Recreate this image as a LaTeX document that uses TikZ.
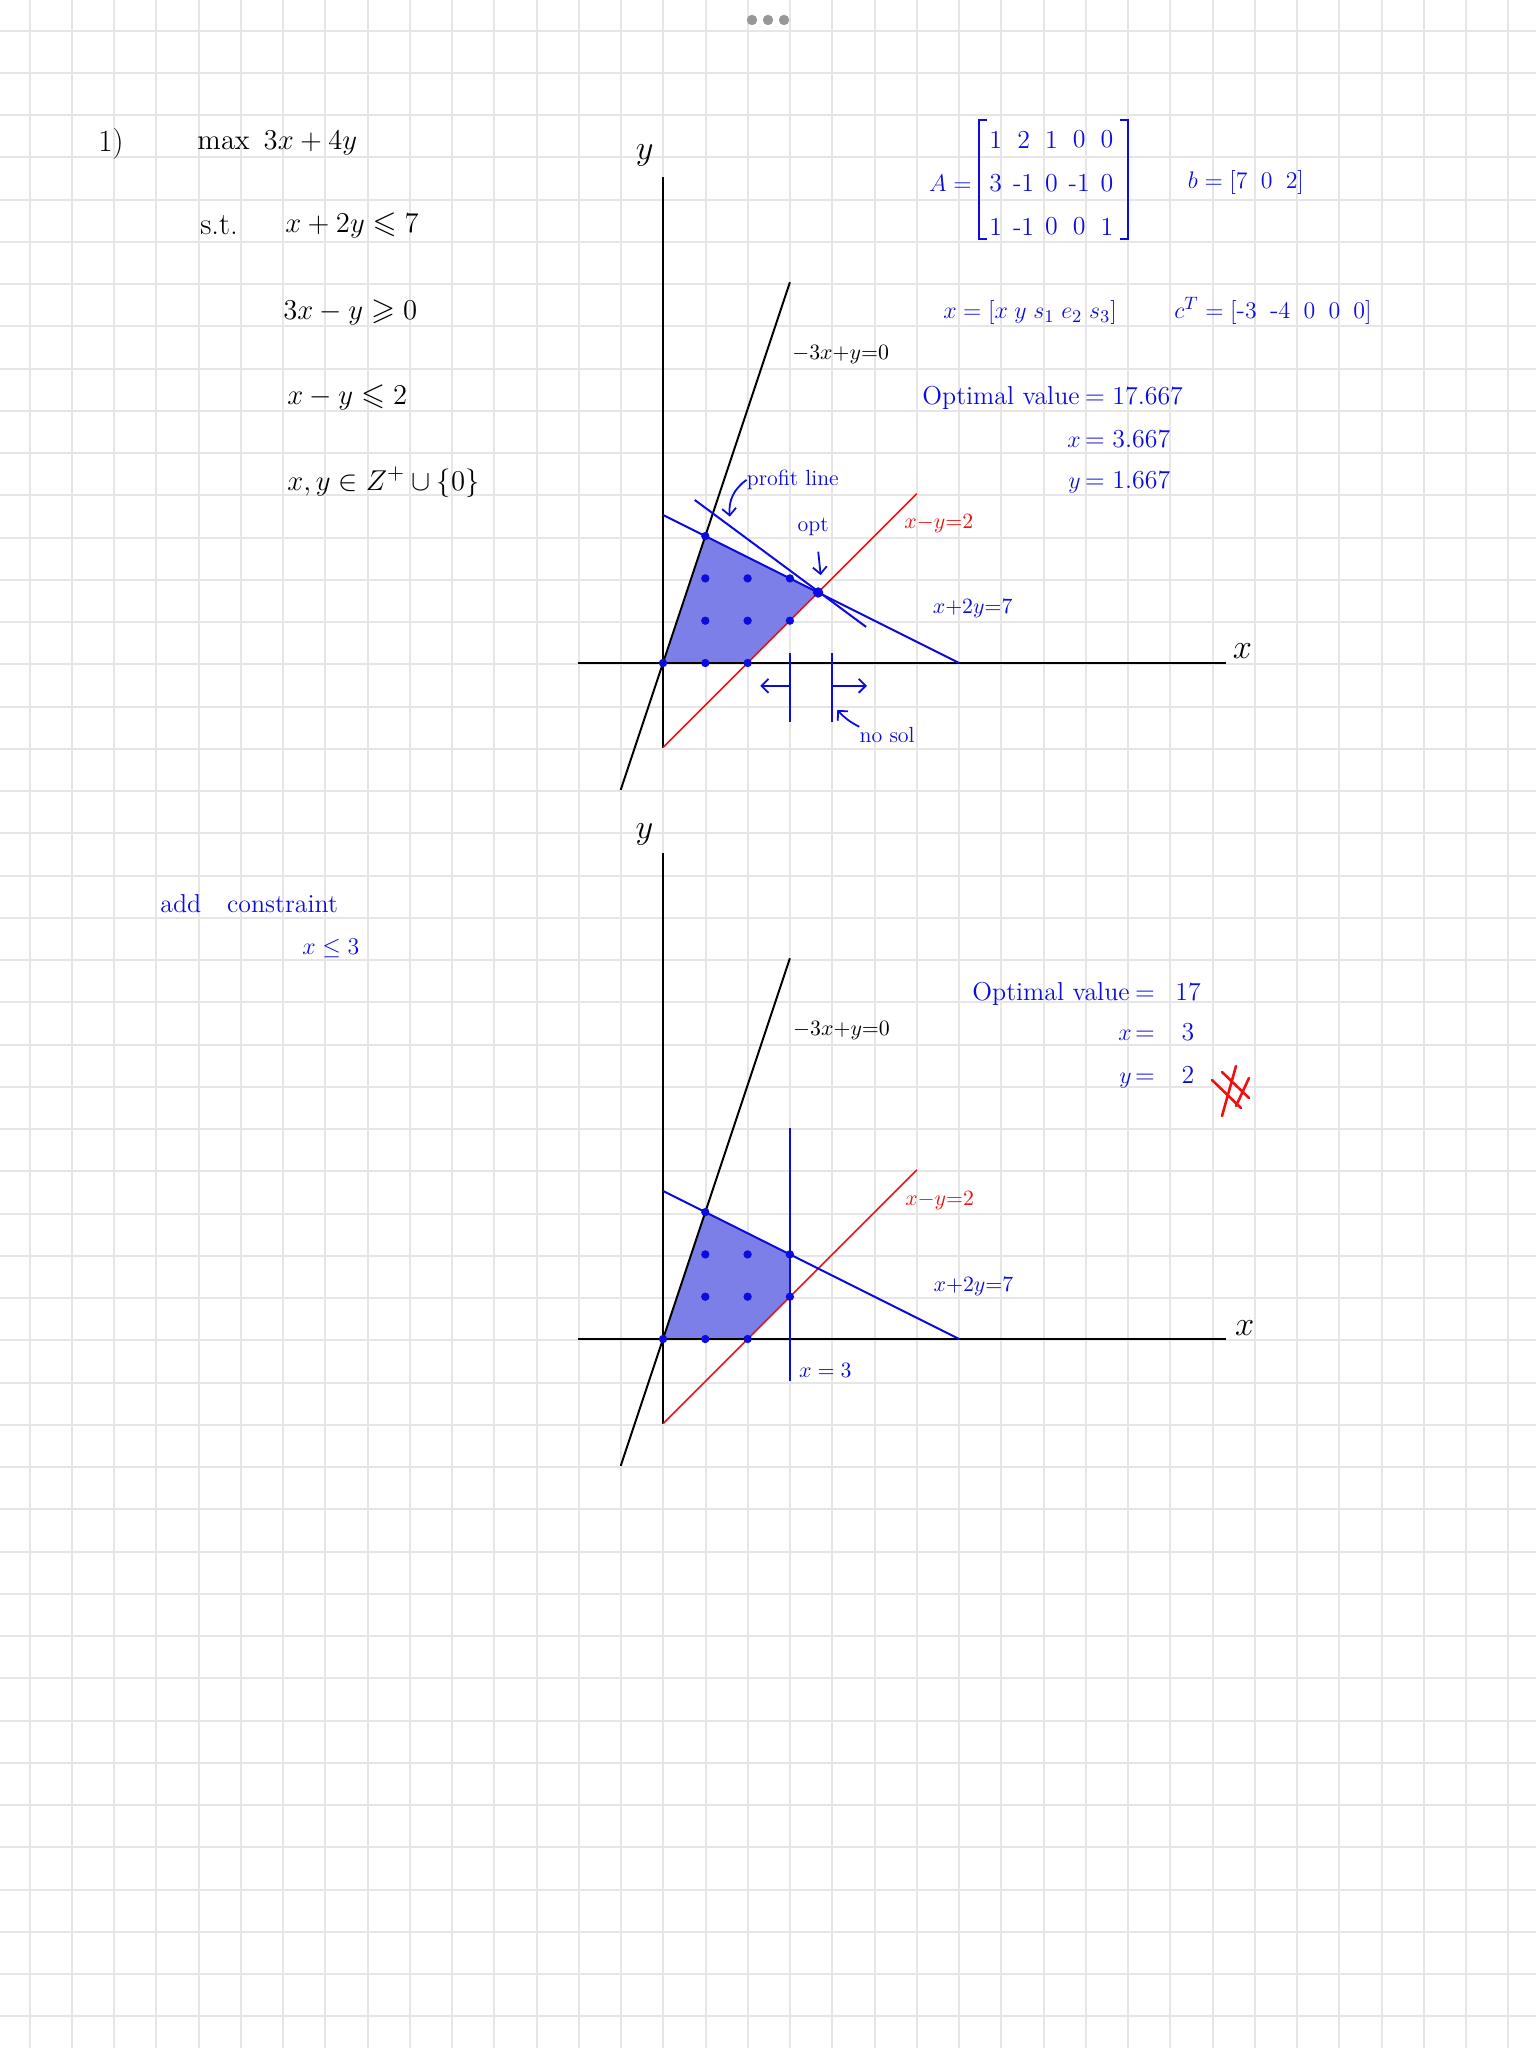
\documentclass[tikz,border=0pt]{standalone}
\usepackage{amssymb}
\usetikzlibrary{arrows.meta, positioning}

\definecolor{penblue}{RGB}{12,12,222}
\definecolor{penred}{RGB}{240,16,16}
\definecolor{regionfill}{RGB}{124,127,232}
\definecolor{gridgray}{RGB}{230,230,230}
\definecolor{dotgray}{RGB}{152,152,152}

\begin{document}
\begin{tikzpicture}[
    x=0.5bp, y=-0.5bp,
    gridline/.style={draw=gridgray, line width=1bp},
    axis/.style={draw=black, line width=1pt},
    bline/.style={draw=penblue, line width=1pt},
    rline/.style={draw=penred, line width=0.8pt},
    ptr/.style={draw=penblue, line width=0.9pt, -{Straight Barb[length=3.5pt, width=7pt]}},
    latt/.style={fill=penblue},
    eqn/.style={inner sep=0pt, font=\fontsize{15.5}{18}\selectfont},
    note/.style={inner sep=0pt, text=penblue, font=\fontsize{13}{15}\selectfont},
    lbl/.style={inner sep=0pt, font=\fontsize{11}{13}\selectfont},
    axlbl/.style={inner sep=0pt, font=\fontsize{18}{20}\selectfont}
  ]

  % Sheet
  \useasboundingbox (0,0) rectangle (1536,2048);
  \fill[white] (0,0) rectangle (1536,2048);
  \foreach \k in {0,...,35} {
    \pgfmathtruncatemacro\gx{30+42.25*\k}
    \draw[gridline] (\gx,0) -- (\gx,2048);
  }
  \foreach \k in {0,...,47} {
    \pgfmathtruncatemacro\gy{31+42.25*\k}
    \draw[gridline] (0,\gy) -- (1536,\gy);
  }
  \foreach \dx in {752,768,784}
    \fill[dotgray] (\dx,20) circle[radius=2.6bp];

  % Problem
  \node[eqn, anchor=base west] (num) at (98,152) {1)};
  \node[eqn, anchor=base west] (obj) at (197,150) {$\max\ 3x+4y$};
  \node[eqn, anchor=base west] (st) at (200,235) {s.t.};
  \node[eqn, anchor=base west] (con1) at (285,233) {$x+2y\leqslant 7$};
  \node[eqn, anchor=base west] (con2) at (283,320) {$3x-y\geqslant 0$};
  \node[eqn, anchor=base west] (con3) at (287,405) {$x-y\leqslant 2$};
  \node[eqn, anchor=base west] (con4) at (287,490) {$x,y\in Z^{+}\cup\{0\}$};

  % Standard form
  \node[note, anchor=east] (Aeq) at (972,183) {$A =$};
  \draw[penblue, line width=0.9pt] (987,120) -- (979,120) -- (979,239) -- (987,239);
  \draw[penblue, line width=0.9pt] (1120,120) -- (1128,120) -- (1128,239) -- (1120,239);
  \foreach \row [count=\r] in {{1,2,1,0,0},{3,-1,0,-1,0},{1,-1,0,0,1}}
    \foreach \e [count=\c] in \row
      \node[note] (a\r\c) at ({968+27.8*\c},{96+43.5*\r}) {\e};
  \node[note] (bvec) at (1246,183) {$b = [7\;\;0\;\;2]$};
  \node[note] (xvec) at (1030,313) {$x = [x\; y\; s_1\; e_2\; s_3]$};
  \node[note] (cvec) at (1273,311) {$c^{T} = [\mbox{-}3\;\;\mbox{-}4\;\;0\;\;0\;\;0]$};

  % LP optimum
  \node[note, anchor=base east] (optname) at (1080,405) {Optimal value};
  \node[note, anchor=base] (opteq) at (1095,405) {=};
  \node[note, anchor=base west] (optnum) at (1112,405) {17.667};
  \node[note, anchor=base east] (xname) at (1081,447) {$x$};
  \node[note, anchor=base] (xeq) at (1095,447) {=};
  \node[note, anchor=base west] (xnum) at (1112,447) {3.667};
  \node[note, anchor=base east] (yname) at (1081,488) {$y$};
  \node[note, anchor=base] (yeq) at (1095,488) {=};
  \node[note, anchor=base west] (ynum) at (1112,488) {1.667};

  % First graph
  \begin{scope}[shift={(663,663)}, x=21.15bp, y=21.15bp]
    \fill[regionfill] (0,0) -- (1,3) -- (11/3,5/3) -- (2,0) -- cycle;
    \draw[axis] (-2,0) -- (13.3,0);
    \draw[axis] (0,-2) -- (0,11.5);
    \draw[axis] (-1,-3) -- (3,9);
    \draw[rline] (0,-2) -- (6,4);
    \draw[bline] (0,3.5) -- (7,0);
    \draw[bline] (0.75,3.854) -- (4.8,0.854);
    \draw[bline] (3,0.23) -- (3,-1.4);
    \draw[bline] (4,0.23) -- (4,-1.4);
    \draw[ptr] (3,-0.54) -- (2.3,-0.54);
    \draw[ptr] (4,-0.54) -- (4.82,-0.54);
    \foreach \p in {(0,0),(1,0),(2,0),(1,1),(2,1),(3,1),(1,2),(2,2),(3,2),(1,3)}
      \fill[latt] \p circle[radius=2.1pt];
    \coordinate (opt) at (11/3,5/3);
    \fill[latt] (opt) circle[radius=2.6pt];

    \node[axlbl] (xax1) at (13.7,0.28) {$x$};
    \node[axlbl] (yax1) at (-0.43,11.99) {$y$};
    \node[lbl] (blk1) at (4.2,7.3) {$-3x{+}y{=}0$};
    \node[lbl, text=penred] (red1) at (6.52,3.29) {$x{-}y{=}2$};
    \node[lbl, text=penblue] (blu1) at (7.32,1.28) {$x{+}2y{=}7$};

    \node[lbl, text=penblue] (profit) at (3.07,4.33) {profit line};
    \coordinate (profittip) at (1.58,3.46);
    \draw[ptr] (profit.west) to[bend right=30] (profittip);
    \node[lbl, text=penblue] (optlbl) at (3.55,3.22) {opt};
    \draw[ptr] ([shift={(0.12,-0.37)}]optlbl.south) -- ([shift={(0.06,0.41)}]opt);
    \node[lbl, text=penblue] (nosol) at (5.3,-1.7) {no sol};
    \coordinate (nosoltip) at (4.12,-1.11);
    \draw[ptr] (nosol.north west) to[bend left=10] (nosoltip);
  \end{scope}

  % Added constraint
  \node[note, anchor=base west] (addc) at (160,912) {add\quad constraint};
  \node[note, anchor=base west] (xle) at (302,954) {$x\leq 3$};

  % Second graph
  \begin{scope}[shift={(663,1339)}, x=21.15bp, y=21.15bp]
    \fill[regionfill] (0,0) -- (1,3) -- (3,2) -- (3,1) -- (2,0) -- cycle;
    \draw[axis] (-2,0) -- (13.3,0);
    \draw[axis] (0,-2) -- (0,11.5);
    \draw[axis] (-1,-3) -- (3,9);
    \draw[rline] (0,-2) -- (6,4);
    \draw[bline] (0,3.5) -- (7,0);
    \draw[bline] (3,5) -- (3,-1);
    \foreach \p in {(0,0),(1,0),(2,0),(1,1),(2,1),(3,1),(1,2),(2,2),(3,2),(1,3)}
      \fill[latt] \p circle[radius=2.1pt];

    \node[axlbl] (xax2) at (13.75,0.26) {$x$};
    \node[axlbl] (yax2) at (-0.44,11.92) {$y$};
    \node[lbl] (blk2) at (4.22,7.28) {$-3x{+}y{=}0$};
    \node[lbl, text=penred] (red2) at (6.54,3.28) {$x{-}y{=}2$};
    \node[lbl, text=penblue] (blu2) at (7.34,1.25) {$x{+}2y{=}7$};
    \node[lbl, text=penblue] (xthree) at (3.84,-0.74) {$x = 3$};
  \end{scope}

  % ILP optimum
  \node[note, anchor=base east] (iptname) at (1130,1000) {Optimal value};
  \node[note, anchor=base] (ipteq) at (1145,1000) {=};
  \node[note, anchor=base] (iptnum) at (1188,1000) {17};
  \node[note, anchor=base east] (ixname) at (1132,1040) {$x$};
  \node[note, anchor=base] (ixeq) at (1145,1040) {=};
  \node[note, anchor=base] (ixnum) at (1188,1040) {3};
  \node[note, anchor=base east] (iyname) at (1132,1083) {$y$};
  \node[note, anchor=base] (iyeq) at (1145,1083) {=};
  \node[note, anchor=base] (iynum) at (1188,1083) {2};
  \draw[penred, line width=1.3pt, line cap=round]
    (1212,1080) -- (1241,1108)
    (1222,1072) -- (1249,1098)
    (1236,1066) -- (1222,1116)
    (1249,1078) -- (1236,1106);

\end{tikzpicture}
\end{document}
